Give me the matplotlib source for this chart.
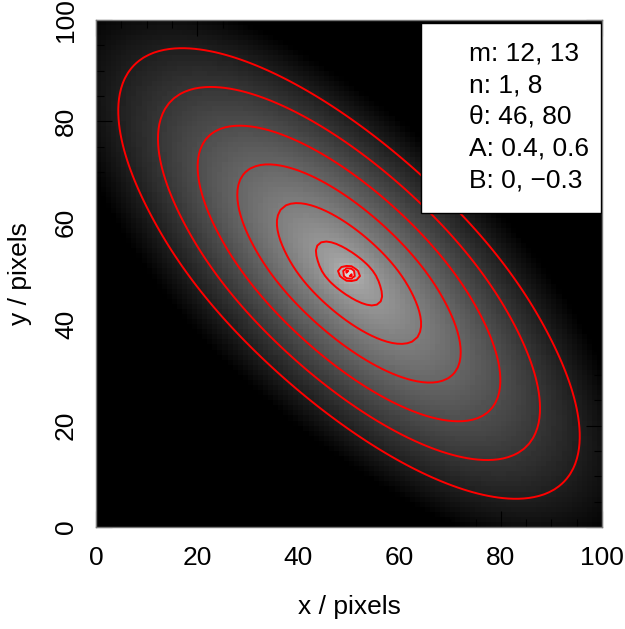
import math
import numpy as np
import matplotlib
matplotlib.use('Agg')
import matplotlib.pyplot as plt
from matplotlib.ticker import MultipleLocator
from matplotlib.patches import Rectangle

plt.rcParams['font.family'] = ['Liberation Sans', 'DejaVu Sans']

# two-component Sersic model (values from the legend; re and centre estimated)
xcen = [50, 50]
ycen = [50, 50]
mag = [12, 13]
re = [14.8, 0.26]
nser = [1, 8]
ang = [46, 80]
axrat = [0.4, 0.6]
box = [0, -0.3]
npix = 100

# contour levels (log10 flux) and grey-scale limits
levels = [-10, -9.5, -9, -8.5, -8, -7.5, -7, -6.5, -6, -5.5, -5]
grey_lo = -10.65
grey_hi = -5.25

legend_lines = ['m: 12, 13', 'n: 1, 8', 'θ: 46, 80', 'A: 0.4, 0.6', 'B: 0, \u22120.3']


def bn_approx(n):
    return 2*n - 1/3 + 4/(405*n) + 46/(25515*n**2) + 131/(1148175*n**3)


def sersic(xx, yy, xc, yc, m, r_e, n, th, q, b):
    bn = bn_approx(n)
    t = math.radians(th)
    dx = xx - xc
    dy = yy - yc
    # major axis: 0 = vertical, counter-clockwise
    xmaj = -dx*math.sin(t) + dy*math.cos(t)
    xmin = dx*math.cos(t) + dy*math.sin(t)
    p = 2 + b
    r = (np.abs(xmaj)**p + np.abs(xmin/q)**p)**(1/p)
    rbox = math.pi*p*math.gamma(2/p)/(2*math.gamma(1/p)**2)
    lum = 10**(-0.4*m)
    ie = lum/(r_e**2*2*math.pi*n*math.exp(bn)/bn**(2*n)*math.gamma(2*n)*q/rbox)
    return ie*np.exp(-bn*((r/r_e)**(1/n) - 1))


# oversampled pixel grid
os_ = 8
sub = (np.arange(npix*os_) + 0.5)/os_
XX, YY = np.meshgrid(sub, sub)
img = np.zeros_like(XX)
for i in range(2):
    img += sersic(XX, YY, xcen[i], ycen[i], mag[i], re[i], nser[i], ang[i], axrat[i], box[i])
img = img.reshape(npix, os_, npix, os_).mean(axis=(1, 3))
limg = np.log10(img)
grey = np.clip((limg - grey_lo)/(grey_hi - grey_lo), 0, 1)

fig = plt.figure(figsize=(6.25, 6.29), dpi=100)
ax = fig.add_axes([0.1536, 0.1622, 0.8096, 0.806])
ax.imshow(grey, cmap='gray', origin='lower', extent=(0, 100, 0, 100),
          interpolation='nearest', vmin=0, vmax=1, aspect='auto')
pc = np.arange(npix) + 0.5
ax.contour(pc, pc, limg, levels=levels, colors='red',
           linewidths=1.4, linestyles='solid')
ax.set_xlim(0, 100)
ax.set_ylim(0, 100)

ax.xaxis.set_major_locator(MultipleLocator(20))
ax.yaxis.set_major_locator(MultipleLocator(20))
ax.xaxis.set_minor_locator(MultipleLocator(5))
ax.yaxis.set_minor_locator(MultipleLocator(5))
ax.tick_params(which='both', direction='in', top=True, right=True, color='black',
               labelsize=19)
ax.tick_params(which='major', length=11.5, width=0.8)
ax.tick_params(which='minor', length=5.8, width=0.8)
ax.tick_params(axis='x', pad=14)
ax.tick_params(axis='y', pad=13)
for lab in ax.get_yticklabels():
    lab.set_rotation(90)
    lab.set_va('center')
for s in ax.spines.values():
    s.set_color('#777777')
    s.set_linewidth(1)

ax.set_xlabel('x / pixels', fontsize=19, labelpad=18)
ax.set_ylabel('y / pixels', fontsize=19, labelpad=16)

ax.add_patch(Rectangle((0.642, 0.619), 0.356, 0.375, transform=ax.transAxes,
                       fc='white', ec='black', lw=1, zorder=3))
for k, line in enumerate(legend_lines):
    ax.text(0.738, 0.92 - 0.0625*k, line, transform=ax.transAxes,
            ha='left', va='baseline', fontsize=19, zorder=4)

fig.savefig('out.png', dpi=100)
